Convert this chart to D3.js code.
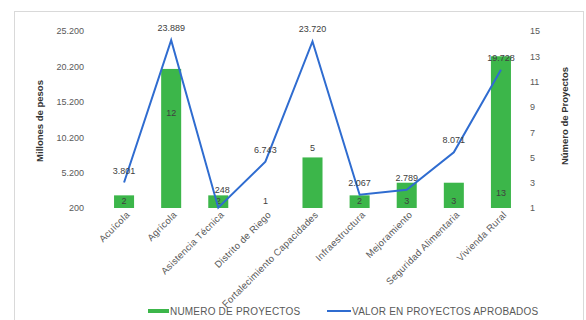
<!DOCTYPE html>
<html><head><meta charset="utf-8">
<script src="https://cdn.jsdelivr.net/npm/d3@7"></script>
<style>
html,body{margin:0;padding:0;background:#fff;}
svg{display:block;font-family:"Liberation Sans",Arial,sans-serif;}
</style></head>
<body><svg id="c" width="586" height="320"></svg>
<script>
const categories = ["Acuícola","Agrícola","Asistencia Técnica","Distrito de Riego","Fortalecimiento Capacidades","Infraestructura","Mejoramiento","Seguridad Alimentaria","Vivienda Rural"];
const numeroProyectos = [2,12,2,1,5,2,3,3,13];
const valorProyectos = [3801,23889,248,6743,23720,2067,2789,8071,19728];
const leftTicks = [200,5200,10200,15200,20200,25200];
const rightTicks = [1,3,5,7,9,11,13,15];
const legendLabels = ["NUMERO DE PROYECTOS","VALOR EN PROYECTOS APROBADOS"];

const svg = d3.select("#c");
const green = "#3cb64a", blue = "#2f6cd0", txt = "#595959";
// chart frame
svg.append("rect").attr("x",14.5).attr("y",11.5).attr("width",569).attr("height",320)
  .attr("fill","none").attr("stroke","#d9d9d9");

const x = d3.scaleBand().domain(categories).range([100.5,524.5]).paddingInner(0.575).paddingOuter(0.2875);
const yL = d3.scaleLinear().domain([200,25200]).range([208,31]);
const yR = d3.scaleLinear().domain([1,15]).range([208,31]);
const fmt = v => d3.format(",")(v).replace(/,/g,".");

// left axis
const gl = svg.append("g").attr("transform","translate(84,0)")
  .call(d3.axisLeft(yL).tickValues(leftTicks).tickSize(0).tickPadding(0).tickFormat(fmt));
gl.select(".domain").remove();
gl.selectAll("text").attr("fill",txt).attr("font-size",9).attr("font-family","Liberation Sans, Arial");
// right axis
const gr = svg.append("g").attr("transform","translate(530,0)")
  .call(d3.axisRight(yR).tickValues(rightTicks).tickSize(0).tickPadding(0));
gr.select(".domain").remove();
gr.selectAll("text").attr("fill",txt).attr("font-size",9).attr("font-family","Liberation Sans, Arial");

// axis titles
svg.append("text").attr("transform","translate(43,121) rotate(-90)").attr("text-anchor","middle")
  .attr("font-size",9.5).attr("font-weight","bold").attr("fill","#333").text("Millones de pesos");
svg.append("text").attr("transform","translate(568,116) rotate(-90)").attr("text-anchor","middle")
  .attr("font-size",9.5).attr("font-weight","bold").attr("fill","#333").text("Número de Proyectos");

// bars
svg.append("g").selectAll("rect").data(categories).join("rect")
  .attr("x",d=>x(d)).attr("width",x.bandwidth())
  .attr("y",(d,i)=>yR(numeroProyectos[i]))
  .attr("height",(d,i)=>yR(1)-yR(numeroProyectos[i]))
  .attr("fill",green);

// bar labels
const barLabelY = (i) => {
  const top = yR(numeroProyectos[i]);
  if (i===1) return (top+yR(1))/2 - 22;
  if (i===4) return top - 6;
  if (i===8) return yR(1) - 12;
  return yR(1) - 4;
};
svg.append("g").selectAll("text").data(categories).join("text")
  .attr("x",d=>x(d)+x.bandwidth()/2).attr("y",(d,i)=>barLabelY(i))
  .attr("text-anchor","middle").attr("font-size",9).attr("fill","#404040")
  .text((d,i)=>numeroProyectos[i]);

// line
const line = d3.line().x((d,i)=>x(categories[i])+x.bandwidth()/2).y(d=>yL(d));
svg.append("path").datum(valorProyectos).attr("d",line).attr("fill","none")
  .attr("stroke",blue).attr("stroke-width",2).attr("stroke-linejoin","miter");

// line labels
svg.append("g").selectAll("text").data(valorProyectos).join("text")
  .attr("x",(d,i)=>x(categories[i])+x.bandwidth()/2 + (i===2?4:0))
  .attr("y",(d,i)=>yL(d) - (i===2?15:9))
  .attr("text-anchor","middle").attr("font-size",9).attr("fill","#404040")
  .text(d=>fmt(d));

// x labels
svg.append("g").selectAll("text").data(categories).join("text")
  .attr("transform",d=>`translate(${x(d)+x.bandwidth()/2+4},213) rotate(-45)`)
  .attr("text-anchor","end").attr("dy","0.35em").attr("font-size",9.5).attr("letter-spacing",0.3).attr("fill",txt)
  .text(d=>d);

// legend
const lg = svg.append("g");
lg.append("line").attr("x1",148).attr("x2",169).attr("y1",311).attr("y2",311).attr("stroke",green).attr("stroke-width",4);
lg.append("text").attr("x",170).attr("y",314.5).attr("font-size",10).attr("letter-spacing",0.2).attr("fill",txt).text(legendLabels[0]);
lg.append("line").attr("x1",327).attr("x2",351).attr("y1",311).attr("y2",311).attr("stroke",blue).attr("stroke-width",2);
lg.append("text").attr("x",352).attr("y",314.5).attr("font-size",10).attr("letter-spacing",0.2).attr("fill",txt).text(legendLabels[1]);
</script></body></html>
